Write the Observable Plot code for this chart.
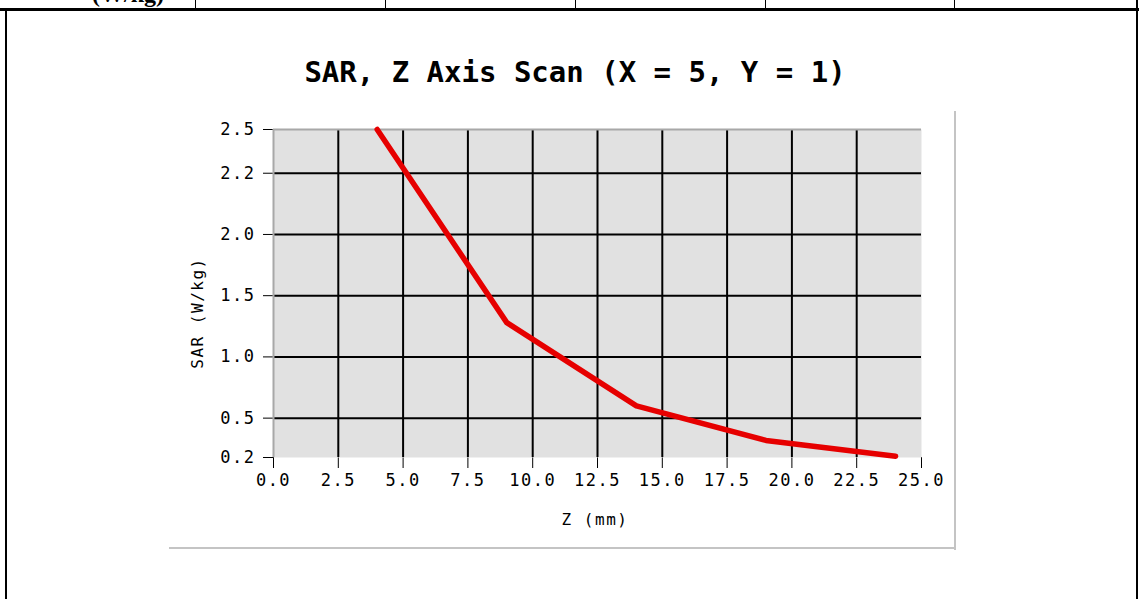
<!DOCTYPE html>
<html>
<head>
<meta charset="utf-8">
<script src="https://cdn.jsdelivr.net/npm/d3@7"></script>
<script src="https://cdn.jsdelivr.net/npm/@observablehq/plot@0.6"></script>
<style>
  html, body { margin: 0; padding: 0; background: #fff; overflow: hidden; }
  #page { position: relative; width: 1139px; height: 599px; }
  #page > * { position: absolute; }
  .ln { background: #000; }
  .shadow { background: #c4c4c4; }
  #overlay { left: 0; top: 0; pointer-events: none; }
</style>
</head>
<body>
<div id="page">
  <div id="chart" style="left:0;top:0"></div>
  <div class="ln" style="left:0;top:8px;width:1139px;height:3px"></div>
  <div class="ln" style="left:5px;top:8px;width:2px;height:591px"></div>
  <div class="ln" style="left:1136px;top:0;width:2px;height:599px"></div>
  <div class="ln" style="left:195px;top:0;width:1px;height:9px"></div>
  <div class="ln" style="left:385px;top:0;width:1px;height:9px"></div>
  <div class="ln" style="left:575px;top:0;width:1px;height:9px"></div>
  <div class="ln" style="left:765px;top:0;width:1px;height:9px"></div>
  <div class="ln" style="left:954px;top:0;width:1px;height:9px"></div>
  <div class="shadow" style="left:954px;top:111px;width:2px;height:439px"></div>
  <div class="shadow" style="left:169px;top:547px;width:787px;height:2px"></div>
  <svg id="overlay" width="1139" height="599">
    <text x="92" y="2" font-family="Liberation Serif" font-weight="bold" font-size="24">(W/kg)</text>
    <text id="title" x="575" y="82" text-anchor="middle" font-family="DejaVu Sans Mono" font-weight="bold" font-size="29"></text>
    <text id="ylab" transform="translate(197,313) rotate(-90)" text-anchor="middle" dominant-baseline="central" font-family="DejaVu Sans Mono" font-size="16" letter-spacing="1.5"></text>
    <text id="xlab" x="595" y="525" text-anchor="middle" font-family="DejaVu Sans Mono" font-size="16" letter-spacing="1.5"></text>
  </svg>
</div>
<script>
// ---- data ----
const titleText = "SAR, Z Axis Scan (X = 5, Y = 1)";
const xLabel = "Z (mm)";
const yLabel = "SAR (W/kg)";
const zValues = [4, 9, 14, 19, 24];              // Z (mm)
const sarValues = [2.5, 1.28, 0.60, 0.33, 0.21]; // SAR (W/kg)
const xTicks = [0, 2.5, 5, 7.5, 10, 12.5, 15, 17.5, 20, 22.5, 25];
const yTicks = [0.2, 0.5, 1.0, 1.5, 2.0, 2.2, 2.5];
const yTickGaps = [9, 14, 14, 14, 14, 10];       // relative spacing between the y ticks on the original axis
const xGrid = [2.5, 5, 7.5, 10, 12.5, 15, 17.5, 20, 22.5];
const yGrid = [0.5, 1.0, 1.5, 2.0, 2.2];

document.getElementById("title").textContent = titleText;
document.getElementById("xlab").textContent = xLabel;
document.getElementById("ylab").textContent = yLabel;

const data = zValues.map((z, i) => ({z, sar: sarValues[i]}));

// the original y axis is not linear: map values onto its tick layout
const yCum = yTickGaps.reduce((acc, g) => (acc.push(acc[acc.length - 1] + g), acc), [0]);
const yAxisMap = d3.scaleLinear().domain(yTicks).range(yCum);
const fmt = d3.format(".1f");

const chart = Plot.plot({
  width: 1139,
  height: 599,
  marginLeft: 273,
  marginRight: 218,
  marginTop: 129,
  marginBottom: 142,
  style: {fontFamily: "DejaVu Sans Mono", fontSize: "17px", color: "#000", background: "transparent", letterSpacing: "1.5px"},
  x: {domain: [0, 25], ticks: xTicks, tickFormat: fmt, tickSize: 11, tickPadding: 5, label: null},
  y: {transform: yAxisMap, ticks: yTicks.map(yAxisMap), tickFormat: v => fmt(yAxisMap.invert(v)), tickSize: 10, tickPadding: 8, label: null},
  marks: [
    Plot.frame({fill: "#e1e1e1", stroke: null}),
    Plot.ruleY([yTicks[0]], {strokeOpacity: 0}),
    Plot.ruleX(xGrid, {stroke: "#000", strokeWidth: 2}),
    Plot.ruleY(yGrid, {stroke: "#000", strokeWidth: 2}),
    Plot.ruleY([yTicks[yTicks.length - 1]], {stroke: "#a8a8a8", strokeWidth: 2}),
    Plot.ruleX([0], {stroke: "#a8a8a8", strokeWidth: 2}),
    Plot.line(data, {x: "z", y: "sar", stroke: "#e60000", strokeWidth: 5.5})
  ]
});
document.getElementById("chart").appendChild(chart);
</script>
</body>
</html>
